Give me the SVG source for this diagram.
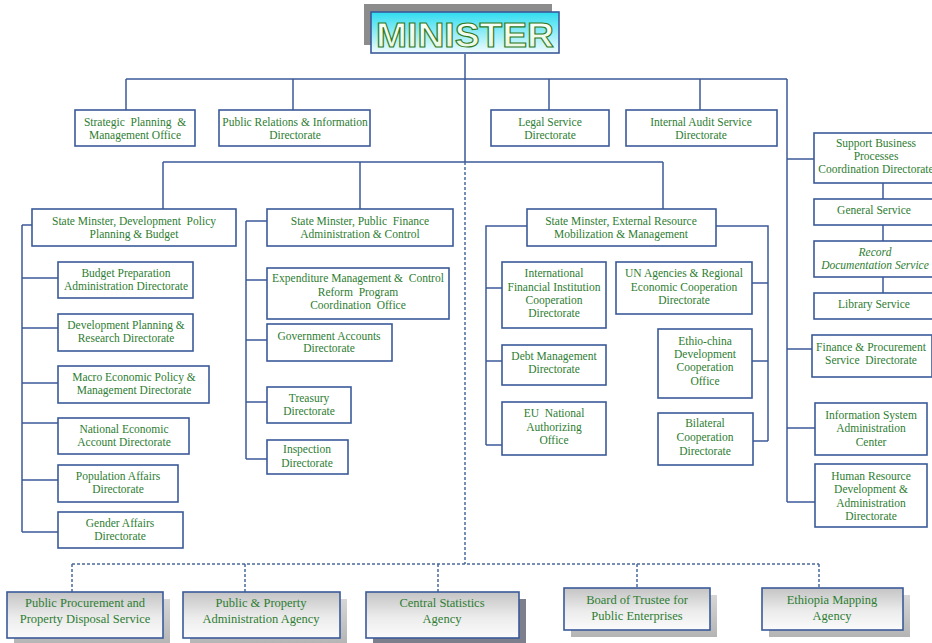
<svg xmlns="http://www.w3.org/2000/svg" width="932" height="643" viewBox="0 0 932 643">
<defs>
<linearGradient id="gMin" x1="0" y1="0" x2="0" y2="1">
<stop offset="0" stop-color="#2fdcef"/>
<stop offset="1" stop-color="#f2fcff"/>
</linearGradient>
<linearGradient id="gMinTxt" x1="0" y1="0" x2="0" y2="1">
<stop offset="0" stop-color="#ffffff"/>
<stop offset="1" stop-color="#e6f6dc"/>
</linearGradient>
<linearGradient id="gBot" x1="0" y1="0" x2="0" y2="1">
<stop offset="0" stop-color="#c4c4c4"/>
<stop offset="0.55" stop-color="#ececec"/>
<stop offset="1" stop-color="#fbfbfb"/>
</linearGradient>
<linearGradient id="gShadow" x1="0" y1="0" x2="0" y2="1">
<stop offset="0" stop-color="#d6d6d6"/>
<stop offset="1" stop-color="#b4b4b4"/>
</linearGradient>
</defs>
<style>
.box{fill:#ffffff;stroke:#3b5a9a;stroke-width:1.6}
.bbox{fill:url(#gBot);stroke:#3b5a9a;stroke-width:1.6}
.shd{fill:url(#gShadow)}
.t{font-family:"Liberation Serif","Times New Roman",serif;font-size:11.5px;fill:#2e7d32;text-anchor:middle}
.tb{font-family:"Liberation Serif","Times New Roman",serif;font-size:12.5px;fill:#2e7d32;text-anchor:middle}
.it{font-style:italic}
.ln{stroke:#3b5a9a;stroke-width:1.5;fill:none}
.dash{stroke:#4a6a9a;stroke-width:1.5;stroke-dasharray:3 2;fill:none}
</style>

<g id="connectors">
<path class="ln" d="M465 54V162 M126 79H787 M126 79V110 M293 79V110 M549 79V110 M700 79V110"/>
<path class="ln" d="M163 162H663 M163 162V209 M360 162V209 M663 162V209"/>
<path class="ln" d="M787 79V502 M787 159H814 M787 349H812 M787 428H815 M787 502H815"/>
<path class="ln" d="M883 183V199 M883 225V241 M883 277V293"/>
<path class="ln" d="M22 225H32 M22 225V532 M22 278H58 M22 328H58 M22 383H58 M22 423H58 M22 480H58 M22 532H58"/>
<path class="ln" d="M246 221H267 M246 221V459 M246 280H267 M246 340H267 M246 402H267 M246 459H267"/>
<path class="ln" d="M527 226H486 V445 M486 288H502 M486 361H502 M486 445H502"/>
<path class="ln" d="M716 226H768 V441 M768 283H752 M768 361H752 M768 441H753"/>
<path class="dash" d="M465 162V564 M72 564H819 M72 564V592 M245 564V592 M438 564V592 M637 564V588 M819 564V588"/>
</g>

<g id="minister">
<rect x="364" y="4" width="188" height="41" fill="#8c8c8c"/>
<rect x="371" y="12" width="188" height="41" fill="url(#gMin)" stroke="#3b5a9a" stroke-width="1.6"/>
<text x="465" y="47" text-anchor="middle" font-family="'Liberation Sans',Arial,sans-serif" font-size="35" font-weight="bold" fill="url(#gMinTxt)" stroke="#2f7a1c" stroke-width="1.1" textLength="178" lengthAdjust="spacingAndGlyphs">MINISTER</text>
</g>

<g id="strategic"><rect class="box" x="75" y="110" width="120" height="36"/><text class="t"><tspan x="135" y="126">Strategic&#160; Planning&#160; &amp;</tspan><tspan x="135" y="139">Management Office</tspan></text></g>
<g id="public-relations"><rect class="box" x="219" y="110" width="151" height="36"/><text class="t"><tspan x="295" y="126">Public Relations &amp; Information</tspan><tspan x="295" y="139">Directorate</tspan></text></g>
<g id="legal"><rect class="box" x="491" y="110" width="118" height="36"/><text class="t"><tspan x="550" y="126">Legal Service</tspan><tspan x="550" y="139">Directorate</tspan></text></g>
<g id="audit"><rect class="box" x="626" y="110" width="151" height="36"/><text class="t"><tspan x="701" y="126">Internal Audit Service</tspan><tspan x="701" y="139">Directorate</tspan></text></g>

<g id="sm-dev"><rect class="box" x="32" y="209" width="204" height="37"/><text class="t"><tspan x="134" y="225">State Minster, Development&#160; Policy</tspan><tspan x="134" y="238">Planning &amp; Budget</tspan></text></g>
<g id="sm-pf"><rect class="box" x="267" y="209" width="186" height="37"/><text class="t"><tspan x="360" y="225">State Minster, Public&#160; Finance</tspan><tspan x="360" y="238">Administration &amp; Control</tspan></text></g>
<g id="sm-ext"><rect class="box" x="527" y="209" width="189" height="37"/><text class="t"><tspan x="621" y="225">State Minster, External Resource</tspan><tspan x="621" y="238">Mobilization &amp; Management</tspan></text></g>

<g id="budget"><rect class="box" x="58" y="262" width="135" height="36"/><text class="t"><tspan x="126" y="277">Budget Preparation</tspan><tspan x="126" y="290">Administration Directorate</tspan></text></g>
<g id="devplan"><rect class="box" x="58" y="314" width="135" height="37"/><text class="t"><tspan x="126" y="329">Development Planning &amp;</tspan><tspan x="126" y="342">Research Directorate</tspan></text></g>
<g id="macro"><rect class="box" x="58" y="366" width="151" height="37"/><text class="t"><tspan x="134" y="381">Macro Economic Policy &amp;</tspan><tspan x="134" y="394">Management Directorate</tspan></text></g>
<g id="national"><rect class="box" x="58" y="418" width="131" height="36"/><text class="t"><tspan x="124" y="433">National Economic</tspan><tspan x="124" y="446">Account Directorate</tspan></text></g>
<g id="population"><rect class="box" x="58" y="465" width="120" height="37"/><text class="t"><tspan x="118" y="480">Population Affairs</tspan><tspan x="118" y="493">Directorate</tspan></text></g>
<g id="gender"><rect class="box" x="58" y="512" width="125" height="36"/><text class="t"><tspan x="120" y="527">Gender Affairs</tspan><tspan x="120" y="540">Directorate</tspan></text></g>

<g id="expenditure"><rect class="box" x="267" y="268" width="182" height="51"/><text class="t"><tspan x="358" y="282">Expenditure Management &amp;&#160; Control</tspan><tspan x="358" y="296">Reform&#160; Program</tspan><tspan x="358" y="309">Coordination&#160; Office</tspan></text></g>
<g id="gov-accounts"><rect class="box" x="267" y="324" width="125" height="37"/><text class="t"><tspan x="329" y="340">Government Accounts</tspan><tspan x="329" y="352">Directorate</tspan></text></g>
<g id="treasury"><rect class="box" x="267" y="387" width="84" height="36"/><text class="t"><tspan x="309" y="402">Treasury</tspan><tspan x="309" y="415">Directorate</tspan></text></g>
<g id="inspection"><rect class="box" x="267" y="440" width="81" height="34"/><text class="t"><tspan x="307" y="453">Inspection</tspan><tspan x="307" y="467">Directorate</tspan></text></g>

<g id="ifi"><rect class="box" x="502" y="262" width="104" height="66"/><text class="t"><tspan x="554" y="277">International</tspan><tspan x="554" y="291">Financial Institution</tspan><tspan x="554" y="304">Cooperation</tspan><tspan x="554" y="317">Directorate</tspan></text></g>
<g id="debt"><rect class="box" x="502" y="345" width="104" height="40"/><text class="t"><tspan x="554" y="360">Debt Management</tspan><tspan x="554" y="373">Directorate</tspan></text></g>
<g id="eu"><rect class="box" x="502" y="402" width="104" height="53"/><text class="t"><tspan x="554" y="417">EU&#160; National</tspan><tspan x="554" y="431">Authorizing</tspan><tspan x="554" y="444">Office</tspan></text></g>
<g id="un"><rect class="box" x="616" y="262" width="136" height="52"/><text class="t"><tspan x="684" y="277">UN Agencies &amp; Regional</tspan><tspan x="684" y="291">Economic Cooperation</tspan><tspan x="684" y="304">Directorate</tspan></text></g>
<g id="ethio-china"><rect class="box" x="658" y="329" width="94" height="69"/><text class="t"><tspan x="705" y="345">Ethio-china</tspan><tspan x="705" y="358">Development</tspan><tspan x="705" y="371">Cooperation</tspan><tspan x="705" y="385">Office</tspan></text></g>
<g id="bilateral"><rect class="box" x="658" y="413" width="95" height="52"/><text class="t"><tspan x="705" y="427">Bilateral</tspan><tspan x="705" y="441">Cooperation</tspan><tspan x="705" y="455">Directorate</tspan></text></g>

<g id="support"><rect class="box" x="814" y="133" width="122" height="50"/><text class="t"><tspan x="876" y="147">Support Business</tspan><tspan x="876" y="160">Processes</tspan><tspan x="876" y="173">Coordination Directorate</tspan></text></g>
<g id="general"><rect class="box" x="814" y="199" width="122" height="26"/><text class="t"><tspan x="874" y="214">General Service</tspan></text></g>
<g id="record"><rect class="box" x="814" y="241" width="122" height="36"/><text class="t it"><tspan x="875" y="256">Record</tspan><tspan x="875" y="269">Documentation Service</tspan></text></g>
<g id="library"><rect class="box" x="814" y="293" width="122" height="26"/><text class="t"><tspan x="874" y="308">Library Service</tspan></text></g>
<g id="finance"><rect class="box" x="812" y="335" width="120" height="42"/><text class="t"><tspan x="871" y="351">Finance &amp; Procurement</tspan><tspan x="871" y="364">Service&#160; Directorate</tspan></text></g>
<g id="infosys"><rect class="box" x="815" y="403" width="112" height="52"/><text class="t"><tspan x="871" y="419">Information System</tspan><tspan x="871" y="432">Administration</tspan><tspan x="871" y="446">Center</tspan></text></g>
<g id="hr"><rect class="box" x="815" y="464" width="112" height="63"/><text class="t"><tspan x="871" y="480">Human Resource</tspan><tspan x="871" y="493">Development &amp;</tspan><tspan x="871" y="507">Administration</tspan><tspan x="871" y="520">Directorate</tspan></text></g>

<g id="procurement"><rect class="shd" x="14" y="599" width="156" height="46"/><rect class="bbox" x="7" y="592" width="156" height="46"/><text class="tb"><tspan x="85" y="607">Public Procurement and</tspan><tspan x="85" y="623">Property Disposal Service</tspan></text></g>
<g id="property-admin"><rect class="shd" x="190" y="599" width="157" height="46"/><rect class="bbox" x="183" y="592" width="157" height="46"/><text class="tb"><tspan x="261" y="607">Public &amp; Property</tspan><tspan x="261" y="623">Administration Agency</tspan></text></g>
<g id="statistics"><rect x="373" y="599" width="153" height="46" fill="#7d7f8c"/><rect class="bbox" x="366" y="592" width="153" height="46"/><text class="tb"><tspan x="442" y="607">Central Statistics</tspan><tspan x="442" y="623">Agency</tspan></text></g>
<g id="trustee"><rect class="shd" x="571" y="595" width="146" height="42"/><rect class="bbox" x="564" y="588" width="146" height="42"/><text class="tb"><tspan x="637" y="604">Board of Trustee for</tspan><tspan x="637" y="620">Public Enterprises</tspan></text></g>
<g id="mapping"><rect class="shd" x="769" y="595" width="141" height="42"/><rect class="bbox" x="762" y="588" width="141" height="42"/><text class="tb"><tspan x="832" y="604">Ethiopia Mapping</tspan><tspan x="832" y="620">Agency</tspan></text></g>
</svg>
